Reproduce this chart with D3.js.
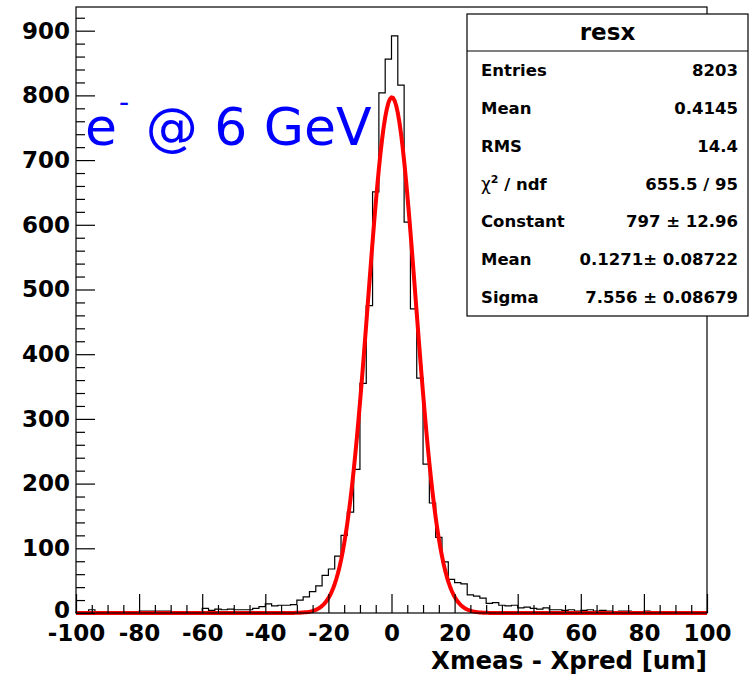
<!DOCTYPE html>
<html>
<head>
<meta charset="utf-8">
<script src="https://cdn.jsdelivr.net/npm/d3@7"></script>
<style>
  body { margin: 0; background: #fff; }
  svg { display: block; }
  text { font-family: "DejaVu Sans", sans-serif; }
</style>
</head>
<body>
<div id="chart"></div>
<script>
// histogram "resx": 100 bins of width 2 from -100 to 100
var xMin = -100, xMax = 100, binWidth = 2;
var counts = [
  1, 2, 5, 1, 0, 1, 1, 1, 0, 1,          // -100 .. -82
  3, 3, 3, 3, 3, 2, 2, 2, 1, 2,          // -80 .. -62
  7, 4, 6, 5, 6, 5, 5, 5, 7, 10,         // -60 .. -42
  14, 11, 12, 12, 13,                    // -40 .. -32
  20, 25, 33, 42, 58, 68, 88, 120, 156, 222,   // -30 .. -12
  355, 475, 651, 804, 856, 892, 816, 604, 470, 363, // -10 .. 8
  230, 170, 117, 79, 52, 47, 45, 28, 26, 23,   // 10 .. 28
  15, 16, 12, 11, 12, 8, 9, 7, 6, 8,     // 30 .. 48
  5, 5, 4, 5, 3, 4, 5, 3, 4, 3,          // 50 .. 68
  2, 3, 3, 2, 2, 3, 2, 2, 1, 2,          // 70 .. 88
  2, 1, 2, 1, 2                          // 90 .. 98
];

// gaussian fit parameters (from the stats box)
var fitConstant = 797, fitMean = 0.1271, fitSigma = 7.556;

// stats box
var statsTitle = "resx";
var statsLabels = ["Entries", "Mean", "RMS", "chi2", "Constant", "Mean", "Sigma"];
var statsValues = ["8203", "0.4145", "14.4", "655.5 / 95", "797 \u00b1 12.96", "0.1271\u00b1 0.08722", "7.556 \u00b1 0.08679"];

var xMajorTicks = [-100, -80, -60, -40, -20, 0, 20, 40, 60, 80, 100];
var yMajorTicks = [0, 100, 200, 300, 400, 500, 600, 700, 800, 900];

var W = 749, H = 674;
var margin = {top: 7, right: 42, bottom: 61, left: 76};
var plotW = W - margin.left - margin.right,
    plotH = H - margin.top - margin.bottom;

var svg = d3.select("#chart").append("svg")
    .attr("width", W)
    .attr("height", H);

var g = svg.append("g")
    .attr("transform", "translate(" + margin.left + "," + margin.top + ")");

var yMax = d3.max(counts) * 1.05;

var x = d3.scaleLinear().domain([xMin, xMax]).range([0, plotW]);
var y = d3.scaleLinear().domain([0, yMax]).range([plotH, 0]);

// plain hyphen labels like ROOT
var fmt = function(d) { return String(d); };

// histogram outline as steps
var pts = [[xMin, 0]];
counts.forEach(function(c, i) {
  var lo = xMin + i * binWidth;
  pts.push([lo, c]);
  pts.push([lo + binWidth, c]);
});
pts.push([xMax, 0]);

g.append("path")
    .datum(pts)
    .attr("d", d3.line()
      .x(function(d) { return x(d[0]); })
      .y(function(d) { return y(d[1]); }))
    .attr("fill", "none")
    .attr("stroke", "#000")
    .attr("stroke-width", 1.2);

// fit function drawn over the full range
function gaus(v) {
  var t = (v - fitMean) / fitSigma;
  return fitConstant * Math.exp(-0.5 * t * t);
}
var fitPts = d3.range(xMin, xMax + 0.001, 0.5).map(function(v) { return [v, gaus(v)]; });

g.append("path")
    .datum(fitPts)
    .attr("d", d3.line()
      .x(function(d) { return x(d[0]); })
      .y(function(d) { return y(d[1]); }))
    .attr("fill", "none")
    .attr("stroke", "#ff0000")
    .attr("stroke-width", 4)
    .attr("stroke-linejoin", "round");

// x axis: major ticks every 20, minor every 5, pointing up
var xMinor = d3.range(xMin, xMax + 0.001, 5).filter(function(v) { return xMajorTicks.indexOf(v) < 0; });
g.append("g")
    .attr("transform", "translate(0," + plotH + ")")
    .call(d3.axisBottom(x).tickValues(xMinor).tickSize(-8).tickFormat(""));
var xAxis = g.append("g")
    .attr("transform", "translate(0," + plotH + ")")
    .call(d3.axisBottom(x).tickValues(xMajorTicks).tickSize(-19).tickPadding(12).tickFormat(fmt));
xAxis.selectAll("text")
    .style("font-size", "23px")
    .style("font-weight", "bold")
    .attr("fill", "#000");

// y axis: major every 100, minor every 20, pointing right
var yMinor = d3.range(0, yMax, 20).filter(function(v) { return v % 100 != 0; });
g.append("g")
    .call(d3.axisLeft(y).tickValues(yMinor).tickSize(-9).tickFormat(""));
var yAxis = g.append("g")
    .call(d3.axisLeft(y).tickValues(yMajorTicks).tickSize(-19).tickPadding(6).tickFormat(fmt));
yAxis.selectAll("text")
    .style("font-size", "23px")
    .style("font-weight", "bold")
    .attr("fill", "#000");
// the "0" label sits a little higher so it clears the x labels
yAxis.selectAll("text").filter(function(d) { return d == 0; }).attr("dy", "0.2em");

g.selectAll(".domain").remove();
g.selectAll(".tick line").attr("stroke", "#000").attr("stroke-width", 1.2);

// frame
g.append("rect")
    .attr("width", plotW)
    .attr("height", plotH)
    .attr("fill", "none")
    .attr("stroke", "#000")
    .attr("stroke-width", 1.2);

// x title
svg.append("text")
    .attr("x", margin.left + plotW)
    .attr("y", 669)
    .attr("text-anchor", "end")
    .style("font-size", "24.5px")
    .style("font-weight", "bold")
    .text("Xmeas - Xpred [um]");

// blue label
var lab = svg.append("text")
    .attr("x", 85)
    .attr("y", 145)
    .attr("fill", "#0000ff")
    .style("font-size", "52px");
lab.append("tspan").text("e");
lab.append("tspan").attr("dx", 2).attr("dy", -33).style("font-size", "28px").text("-");
lab.append("tspan").attr("dy", 33).text(" @ 6 GeV");

// stats box
var box = {x: 467, y: 14, w: 281, h: 302, head: 37};
var sb = svg.append("g");
sb.append("rect")
    .attr("x", box.x).attr("y", box.y)
    .attr("width", box.w).attr("height", box.h)
    .attr("fill", "#fff")
    .attr("stroke", "#000")
    .attr("stroke-width", 1.2);
sb.append("line")
    .attr("x1", box.x).attr("x2", box.x + box.w)
    .attr("y1", box.y + box.head).attr("y2", box.y + box.head)
    .attr("stroke", "#000")
    .attr("stroke-width", 1.2);
sb.append("text")
    .attr("x", box.x + box.w / 2)
    .attr("y", box.y + 26)
    .attr("text-anchor", "middle")
    .style("font-size", "23px")
    .style("font-weight", "bold")
    .text(statsTitle);

var rowH = (box.h - box.head) / statsLabels.length;
statsLabels.forEach(function(l, i) {
  var cy = box.y + box.head + rowH * (i + 0.5) + 6;
  var t = sb.append("text")
      .attr("x", box.x + 14)
      .attr("y", cy)
      .style("font-size", "16.5px")
      .style("font-weight", "bold");
  if (l == "chi2") {
    t.append("tspan").style("font-weight", "normal").style("font-size", "17px").text("\u03c7");
    t.append("tspan").attr("dy", -7).style("font-size", "11px").text("2");
    t.append("tspan").attr("dy", 7).text(" / ndf");
  } else {
    t.text(l);
  }
  sb.append("text")
      .attr("x", box.x + box.w - 10)
      .attr("y", cy)
      .attr("text-anchor", "end")
      .style("font-size", "16.5px")
      .style("font-weight", "bold")
      .text(statsValues[i]);
});
</script>
</body>
</html>
